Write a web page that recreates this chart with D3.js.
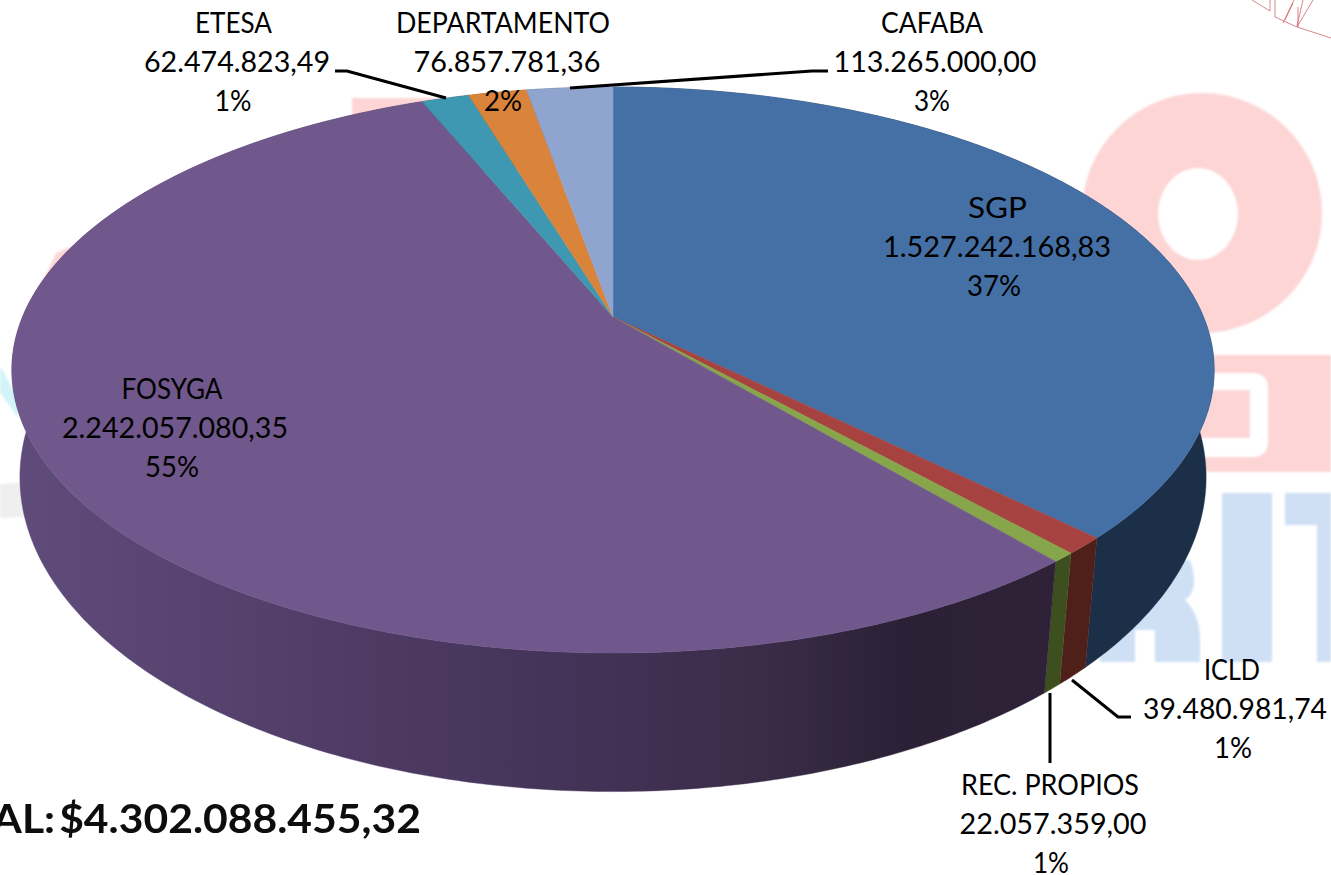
<!DOCTYPE html>
<html><head><meta charset="utf-8">
<script src="https://cdn.jsdelivr.net/npm/d3@7"></script>
<style>html,body{margin:0;padding:0;background:#fff;overflow:hidden}svg{display:block}</style>
</head><body><svg id="c" width="1331" height="875"></svg>
<script>
const categories=["SGP","ICLD","REC. PROPIOS","FOSYGA","ETESA","DEPARTAMENTO","CAFABA"];
const values=[1527242168.83,39480981.74,22057359.00,2242057080.35,62474823.49,76857781.36,113265000.00];
const percentLabels=["37%","1%","1%","55%","1%","2%","3%"];
const totalValue=4302088455.32;
const topColors=["#4470a6","#a6423f","#87a54b","#70578c","#3e98b1","#da833a","#8fa5cf"];
const sideColors=["#1c2f49","#4f1f1a","#3d4f1f","url(#purpleSide)","#1f5566","#7a4418","#4f5c75"];
const nameCx=[997.5,1232,1050,172,233.5,503,932];
const valueCx=[997,1235,1053,175,237,507,935];
const percentCx=[994,1233,1051,172,233,503,932];
const nameW=[59,56,178,101,77,214,102];
const valueW=[228,184,187,226,186,187,203];
const percentW=[54,38,36,54,37,38,36];
const labelTop=[208,670,785,389,23,23,23];
const leaders=[
 [[335,71],[347,71],[446,98]],
 [[570,88],[812,71],[828,71]],
 [[1072,680],[1118,717],[1131,717]],
 [[1050,693],[1050,763]]
];
const fmt=d3.formatLocale({decimal:",",thousands:".",grouping:[3],currency:["$",""]}).format("$,.2f");
const fmtV=d3.formatLocale({decimal:",",thousands:".",grouping:[3],currency:["",""]}).format(",.2f");
const svg=d3.select("#c");
const defs=svg.append("defs");
const g=defs.append("linearGradient").attr("id","purpleSide").attr("gradientUnits","userSpaceOnUse")
 .attr("x1",12).attr("x2",1060).attr("y1",0).attr("y2",0);
[[0,"#604c7b"],[.25,"#523f6a"],[.5,"#45345a"],[.72,"#3a2c48"],[.85,"#2b2035"],[1,"#2f2238"]]
 .forEach(s=>g.append("stop").attr("offset",s[0]).attr("stop-color",s[1]));
defs.append("filter").attr("id","soft").attr("x","-5%").attr("y","-20%").attr("width","110%").attr("height","140%")
 .append("feGaussianBlur").attr("stdDeviation",0.6);
defs.append("filter").attr("id","bgsoft").append("feGaussianBlur").attr("stdDeviation",1.2);

/* faded logo behind the pie */
const bg=svg.append("g").attr("filter","url(#bgsoft)");
const pink="#fdd5d5",blue="#cfe0f5";
bg.append("path").attr("fill-rule","evenodd").attr("fill",pink)
 .attr("d","M1082,213a120,120 0 1,0 240,0a120,120 0 1,0 -240,0Z M1158,214a40,46 0 1,0 80,0a40,46 0 1,0 -80,0Z");
bg.append("rect").attr("x",1180).attr("y",355).attr("width",151).attr("height",117).attr("fill",pink);
bg.append("path").attr("fill","#fff").attr("fill-rule","evenodd")
 .attr("d","M1180,373H1252Q1268,373 1268,389V441Q1268,457 1252,457H1180Z M1180,390V438H1250V390Z");
bg.append("rect").attr("x",1222).attr("y",493).attr("width",50).attr("height",169).attr("fill",blue);
bg.append("path").attr("fill",blue).attr("d","M1285,493H1331V662H1317V525H1285Z");
bg.append("path").attr("fill",blue).attr("d","M1100,560H1190Q1200,590 1185,600Q1200,615 1200,640V662H1155V630H1135V662H1100Z");
bg.append("path").attr("fill",pink).attr("d","M352,98H440V140H352Z");
bg.append("path").attr("fill",pink).attr("d","M56,253L70,247L70,262L30,330L20,330Z");
bg.append("path").attr("fill","#d2f3f7").attr("d","M0,366L18,398L18,418L0,392Z");
bg.append("path").attr("fill","#efefef").attr("d","M0,484L60,480L78,514L0,518Z");
const wire=svg.append("g").attr("fill","none").attr("stroke","#c9535b").attr("stroke-opacity",.7).attr("stroke-width",1);
["M1252,0L1270,11V0","M1275,0V17L1297,27L1331,38","M1283,23L1294,0M1297,27L1313,0","M1285,20L1293,3M1298,7V27M1303,0L1297,26"]
 .forEach(d=>wire.append("path").attr("d",d));

/* perspective disk: (x,y) on a unit disk -> picture */
const cx=613;
const proj=(R,a,b,c)=>(ang)=>{const x=Math.sin(ang),y=-Math.cos(ang),w=1+c*y;return [cx+R*x/w,(a*y+b)/w];};
const topP=proj(590.5,213.7,317,-0.1873);
const botP=proj(584.5,233,424,-0.17);
const apex=[cx,317];
const arcs=d3.pie().sort(null).value(d=>d).startAngle(0).endAngle(2*Math.PI)(values);
const line=d3.line();
const sample=(a)=>{const n=Math.max(6,Math.ceil((a.endAngle-a.startAngle)*90));return d3.range(n+1).map(i=>a.startAngle+(a.endAngle-a.startAngle)*i/n);};

svg.append("g").selectAll("path").data(arcs).join("path")
 .attr("fill",(d,i)=>sideColors[i]).attr("stroke",(d,i)=>sideColors[i]).attr("stroke-width",.4)
 .attr("d",d=>{const s=sample(d);return line(s.map(topP).concat(s.slice().reverse().map(botP)))+"Z";});
svg.append("g").selectAll("path").data(arcs).join("path")
 .attr("fill",(d,i)=>topColors[i]).attr("stroke",(d,i)=>topColors[i]).attr("stroke-width",.5)
 .attr("d",d=>line([apex].concat(sample(d).map(topP)))+"Z");

/* leader lines */
svg.append("g").selectAll("path").data(leaders).join("path")
 .attr("fill","none").attr("stroke","#000").attr("stroke-width",3).attr("d",d=>line(d));

/* labels */
const font="Lato, 'Open Sans', sans-serif";
const lab=svg.append("g").attr("font-family",font).attr("font-size",28).attr("fill","#000").attr("text-anchor","middle");
categories.forEach((c,i)=>{
 [[c,nameCx[i],nameW[i]],[fmtV(values[i]),valueCx[i],valueW[i]],[percentLabels[i],percentCx[i],percentW[i]]].forEach((t,k)=>{
  lab.append("text").attr("x",t[1]).attr("y",labelTop[i]+k*39.2+10).text(t[0])
   .attr("textLength",t[2]).attr("lengthAdjust","spacingAndGlyphs");
 });
});
const tot=svg.append("text").attr("x",421).attr("y",833).attr("text-anchor","end").attr("font-family",font)
 .attr("font-weight",700).attr("font-size",41).attr("word-spacing",-6).attr("fill","#0a0a0a").attr("filter","url(#soft)")
 .text("TOTAL: "+fmt(totalValue));
tot.attr("textLength",tot.node().getComputedTextLength()*1.04).attr("lengthAdjust","spacingAndGlyphs");
</script></body></html>
